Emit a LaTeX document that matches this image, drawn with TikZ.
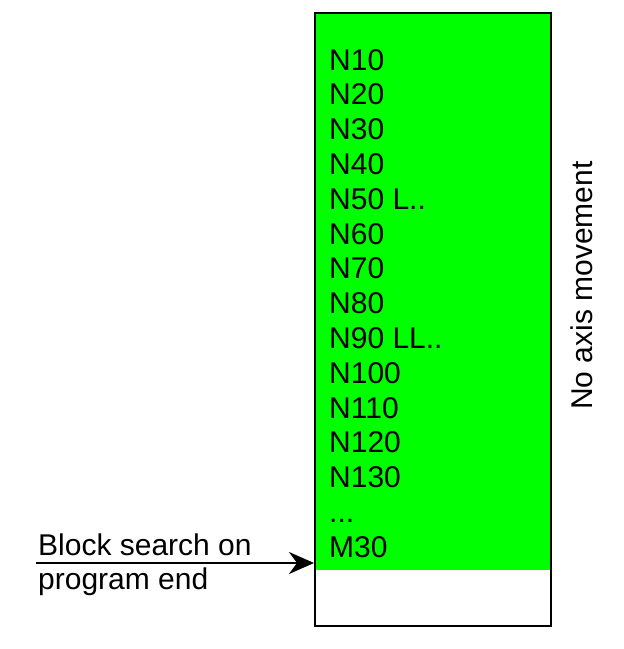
\documentclass[tikz,border=0pt]{standalone}
\usepackage{fontspec}
\setmainfont{Liberation Sans}
\usetikzlibrary{arrows.meta,positioning}
\definecolor{cProgram}{HTML}{00FF00}

\tikzset{
  plain/.style={font=\fontsize{30}{35}\selectfont, inner sep=0pt},
  frame/.style={draw, line width=2pt, inner sep=0pt, anchor=north west},
  pointer/.style={-{Stealth[length=25pt, width=22pt, inset=8pt]}, line width=2pt}
}

\begin{document}
\begin{tikzpicture}[x=1pt, y=-1pt]
\useasboundingbox (0,0) rectangle (624,649);

% Program area (green) and frame
\node[fill=cProgram, inner sep=0pt, anchor=north west, minimum width=236pt, minimum height=558pt] (prog) at (314,12) {};
\node[frame, minimum width=236pt, minimum height=613pt] (box) at (314,12) {};

% Blocks
\foreach \t [count=\i] in {N10, N20, N30, N40, N50 L.., N60, N70, N80, N90 LL.., N100, N110, N120, N130, {.{}.{}.}, M30} {
    \node[plain, anchor=base west] (blk\i) at (329, {70+(\i-1)*34.8}) {\t};
}

% Side label
\node[plain, rotate=90, anchor=base] (axis) at (592,285.5) {No axis movement};

% Search pointer
\node[plain, anchor=base west] (search) at (38,555) {Block search on};
\node[plain, anchor=base west] (search2) at (38,589) {program end};
\coordinate (start) at (36,563);
\draw[pointer] (start) -- (start -| box.west);

\end{tikzpicture}
\end{document}
